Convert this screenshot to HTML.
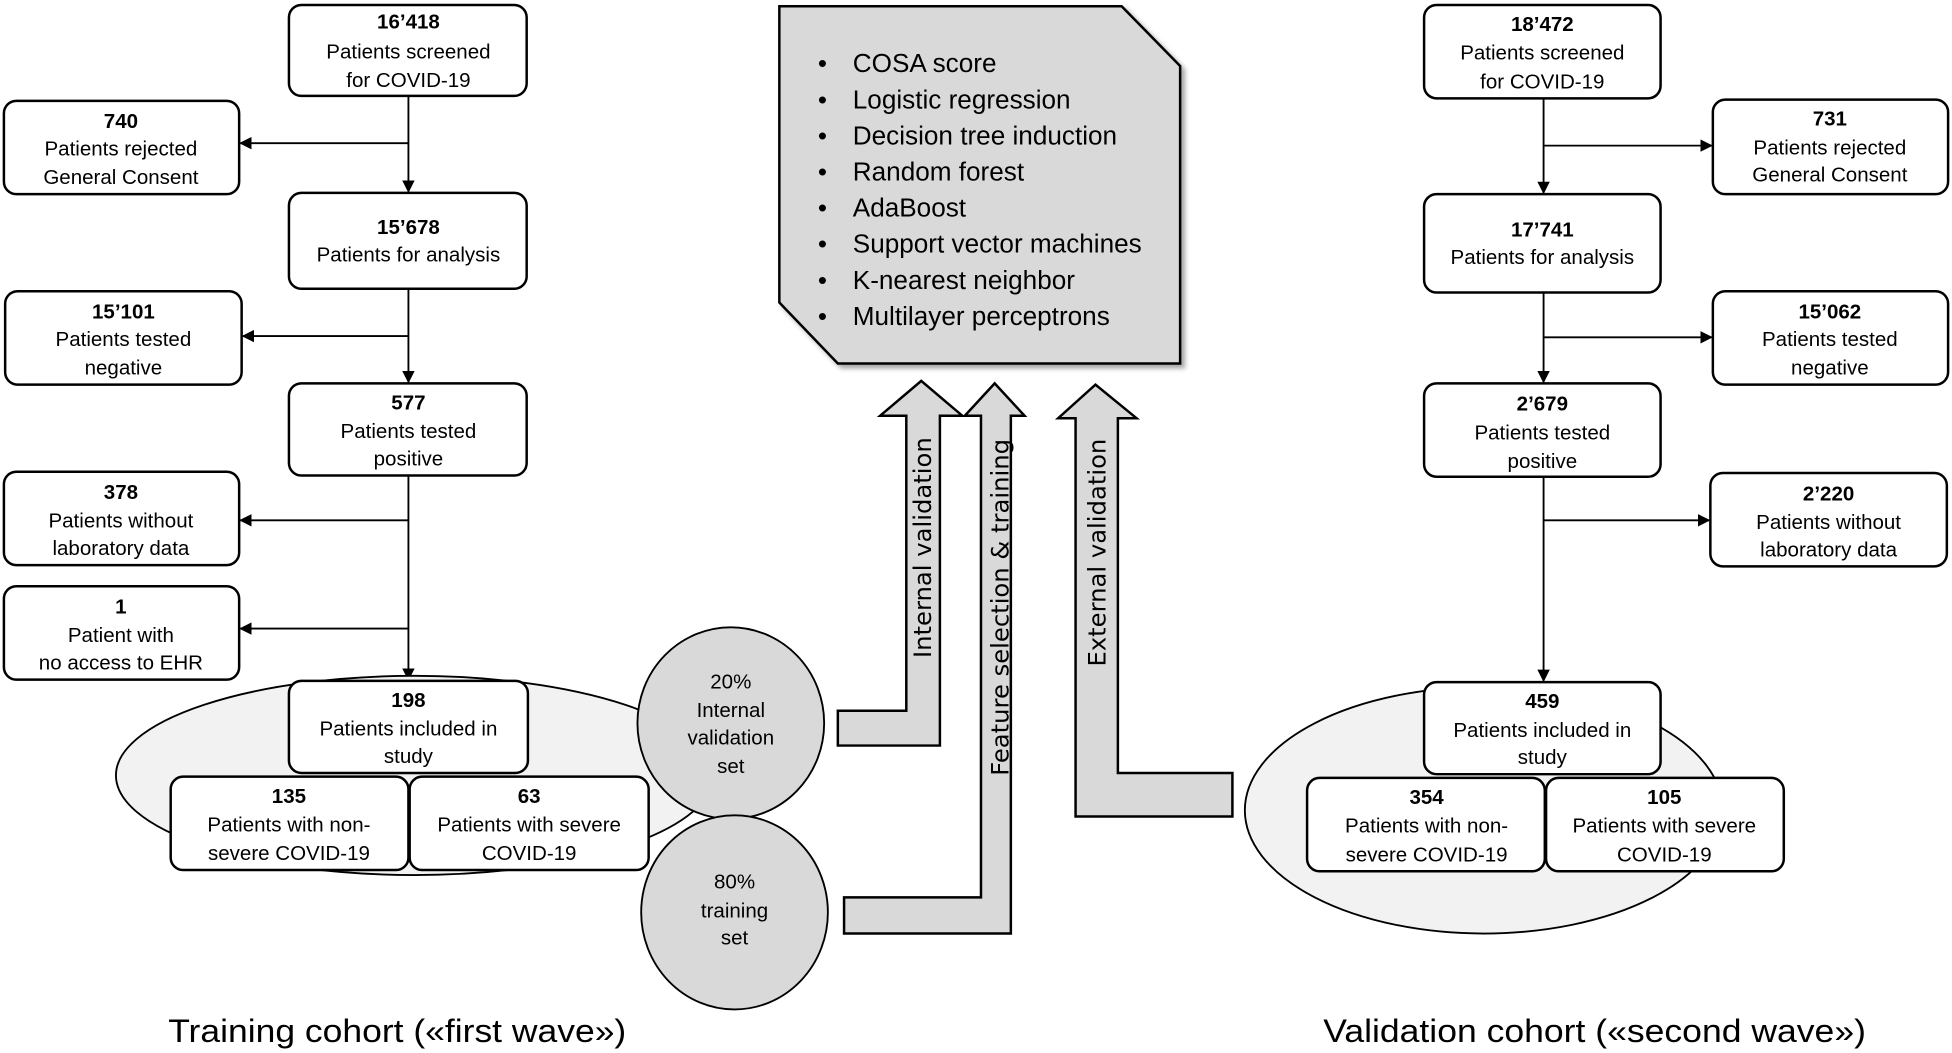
<!DOCTYPE html>
<html><head><meta charset="utf-8"><style>
html,body{margin:0;padding:0;background:#fff;}
svg{display:block;}
.b{font-family:"Liberation Sans",sans-serif;font-size:16.5px;fill:#000;text-anchor:middle;}
.bb{font-weight:bold;}
.box{fill:#fff;stroke:#000;stroke-width:2;}
.ln{stroke:#000;stroke-width:1.5;fill:none;}
.ar{fill:#d9d9d9;stroke:#000;stroke-width:2;}
.lbl{font-family:"DejaVu Sans",sans-serif;font-size:19.5px;fill:#000;text-anchor:middle;}
.li{font-family:"Liberation Sans",sans-serif;font-size:21px;fill:#000;}
.tt{font-family:"Liberation Sans",sans-serif;font-size:26px;fill:#000;text-anchor:middle;}
</style></head><body>
<svg width="1952" height="1053" viewBox="0 0 1568 846" xmlns="http://www.w3.org/2000/svg">
<defs>
<marker id="ah" markerWidth="10" markerHeight="10" refX="9" refY="5" orient="auto" markerUnits="userSpaceOnUse">
<path d="M0,0 L10,5 L0,10 z" fill="#000"/></marker>
<filter id="sh" x="-5%" y="-5%" width="115%" height="115%"><feDropShadow dx="3" dy="3" stdDeviation="2" flood-color="#000" flood-opacity="0.35"/></filter>
</defs>

<line class="ln" x1="328" y1="77" x2="328" y2="154" marker-end="url(#ah)"/>
<line class="ln" x1="328" y1="232" x2="328" y2="307" marker-end="url(#ah)"/>
<line class="ln" x1="328" y1="382" x2="328" y2="546" marker-end="url(#ah)"/>
<line class="ln" x1="328" y1="115" x2="193" y2="115" marker-end="url(#ah)"/>
<line class="ln" x1="328" y1="270" x2="195" y2="270" marker-end="url(#ah)"/>
<line class="ln" x1="328" y1="418" x2="193" y2="418" marker-end="url(#ah)"/>
<line class="ln" x1="328" y1="505" x2="193" y2="505" marker-end="url(#ah)"/>

<ellipse cx="333" cy="623" rx="240" ry="80" fill="#f2f2f2" stroke="#000" stroke-width="1.5"/>

<rect class="box" x="232" y="4" width="191" height="73" rx="10"/>
<text class="b bb" x="328" y="23">16’418</text><text class="b" x="328" y="47">Patients screened</text><text class="b" x="328" y="70">for COVID-19</text>
<rect class="box" x="3" y="81" width="189" height="75" rx="10"/>
<text class="b bb" x="97" y="103">740</text><text class="b" x="97" y="125">Patients rejected</text><text class="b" x="97" y="148">General Consent</text>
<rect class="box" x="232" y="155" width="191" height="77" rx="10"/>
<text class="b bb" x="328" y="188">15’678</text><text class="b" x="328" y="210">Patients for analysis</text>
<rect class="box" x="4" y="234" width="190" height="75" rx="10"/>
<text class="b bb" x="99" y="256">15’101</text><text class="b" x="99" y="278">Patients tested</text><text class="b" x="99" y="301">negative</text>
<rect class="box" x="232" y="308" width="191" height="74" rx="10"/>
<text class="b bb" x="328" y="329">577</text><text class="b" x="328" y="352">Patients tested</text><text class="b" x="328" y="374">positive</text>
<rect class="box" x="3" y="379" width="189" height="75" rx="10"/>
<text class="b bb" x="97" y="401">378</text><text class="b" x="97" y="424">Patients without</text><text class="b" x="97" y="446">laboratory data</text>
<rect class="box" x="3" y="471" width="189" height="75" rx="10"/>
<text class="b bb" x="97" y="493">1</text><text class="b" x="97" y="516">Patient with</text><text class="b" x="97" y="538">no access to EHR</text>
<rect class="box" x="232" y="547" width="192" height="74" rx="10"/>
<text class="b bb" x="328" y="568">198</text><text class="b" x="328" y="591">Patients included in</text><text class="b" x="328" y="613">study</text>
<rect class="box" x="137" y="624" width="191" height="75" rx="10"/>
<text class="b bb" x="232" y="645">135</text><text class="b" x="232" y="668">Patients with non-</text><text class="b" x="232" y="691">severe COVID-19</text>
<rect class="box" x="329" y="624" width="192" height="75" rx="10"/>
<text class="b bb" x="425" y="645">63</text><text class="b" x="425" y="668">Patients with severe</text><text class="b" x="425" y="691">COVID-19</text>

<ellipse cx="587" cy="581" rx="75" ry="77" fill="#d9d9d9" stroke="#000" stroke-width="1.5"/>
<text class="b" x="587" y="553">20%</text><text class="b" x="587" y="576">Internal</text><text class="b" x="587" y="598">validation</text><text class="b" x="587" y="621">set</text>
<ellipse cx="590" cy="733" rx="75" ry="78" fill="#d9d9d9" stroke="#000" stroke-width="1.5"/>
<text class="b" x="590" y="714">80%</text><text class="b" x="590" y="737">training</text><text class="b" x="590" y="759">set</text>

<path d="M626,5 L901,5 L948,53 L948,292 L673,292 L626,243 Z" fill="#d9d9d9" stroke="#000" stroke-width="2" filter="url(#sh)"/>
<g class="li">
<text x="657" y="58">•</text><text x="685" y="58">COSA score</text>
<text x="657" y="87">•</text><text x="685" y="87">Logistic regression</text>
<text x="657" y="116">•</text><text x="685" y="116">Decision tree induction</text>
<text x="657" y="145">•</text><text x="685" y="145">Random forest</text>
<text x="657" y="174">•</text><text x="685" y="174">AdaBoost</text>
<text x="657" y="203">•</text><text x="685" y="203">Support vector machines</text>
<text x="657" y="232">•</text><text x="685" y="232">K-nearest neighbor</text>
<text x="657" y="261">•</text><text x="685" y="261">Multilayer perceptrons</text>
</g>

<path class="ar" d="M673,599 L755,599 L755,334 L773,334 L740,306 L707,334 L728,334 L728,571 L673,571 Z"/>
<text class="lbl" transform="translate(748,440) rotate(-90)">Internal validation</text>
<path class="ar" d="M678,750 L812,750 L812,334 L823,334 L799,308 L775,334 L788,334 L788,721 L678,721 Z"/>
<text class="lbl" transform="translate(810,488) rotate(-90)">Feature selection &amp; training</text>
<path class="ar" d="M990,656 L990,621 L898,621 L898,336 L913,336 L880,309 L850,336 L864,336 L864,656 Z"/>
<text class="lbl" transform="translate(888,444) rotate(-90)">External validation</text>

<line class="ln" x1="1240" y1="79" x2="1240" y2="155" marker-end="url(#ah)"/>
<line class="ln" x1="1240" y1="235" x2="1240" y2="307" marker-end="url(#ah)"/>
<line class="ln" x1="1240" y1="383" x2="1240" y2="547" marker-end="url(#ah)"/>
<line class="ln" x1="1240" y1="117" x2="1375" y2="117" marker-end="url(#ah)"/>
<line class="ln" x1="1240" y1="271" x2="1375" y2="271" marker-end="url(#ah)"/>
<line class="ln" x1="1240" y1="418" x2="1373" y2="418" marker-end="url(#ah)"/>

<ellipse cx="1192" cy="651" rx="192" ry="99" fill="#f2f2f2" stroke="#000" stroke-width="1.5"/>

<rect class="box" x="1144" y="4" width="190" height="75" rx="10"/>
<text class="b bb" x="1239" y="25">18’472</text><text class="b" x="1239" y="48">Patients screened</text><text class="b" x="1239" y="71">for COVID-19</text>
<rect class="box" x="1376" y="80" width="189" height="76" rx="10"/>
<text class="b bb" x="1470" y="101">731</text><text class="b" x="1470" y="124">Patients rejected</text><text class="b" x="1470" y="146">General Consent</text>
<rect class="box" x="1144" y="156" width="190" height="79" rx="10"/>
<text class="b bb" x="1239" y="190">17’741</text><text class="b" x="1239" y="212">Patients for analysis</text>
<rect class="box" x="1376" y="234" width="189" height="75" rx="10"/>
<text class="b bb" x="1470" y="256">15’062</text><text class="b" x="1470" y="278">Patients tested</text><text class="b" x="1470" y="301">negative</text>
<rect class="box" x="1144" y="308" width="190" height="75" rx="10"/>
<text class="b bb" x="1239" y="330">2’679</text><text class="b" x="1239" y="353">Patients tested</text><text class="b" x="1239" y="376">positive</text>
<rect class="box" x="1374" y="380" width="190" height="75" rx="10"/>
<text class="b bb" x="1469" y="402">2’220</text><text class="b" x="1469" y="425">Patients without</text><text class="b" x="1469" y="447">laboratory data</text>
<rect class="box" x="1144" y="548" width="190" height="74" rx="10"/>
<text class="b bb" x="1239" y="569">459</text><text class="b" x="1239" y="592">Patients included in</text><text class="b" x="1239" y="614">study</text>
<rect class="box" x="1050" y="625" width="191" height="75" rx="10"/>
<text class="b bb" x="1146" y="646">354</text><text class="b" x="1146" y="669">Patients with non-</text><text class="b" x="1146" y="692">severe COVID-19</text>
<rect class="box" x="1242" y="625" width="191" height="75" rx="10"/>
<text class="b bb" x="1337" y="646">105</text><text class="b" x="1337" y="669">Patients with severe</text><text class="b" x="1337" y="692">COVID-19</text>

<text class="tt" x="319" y="837" textLength="368" lengthAdjust="spacingAndGlyphs">Training cohort («first wave»)</text>
<text class="tt" x="1281" y="837" textLength="436" lengthAdjust="spacingAndGlyphs">Validation cohort («second wave»)</text>
</svg>
</body></html>
